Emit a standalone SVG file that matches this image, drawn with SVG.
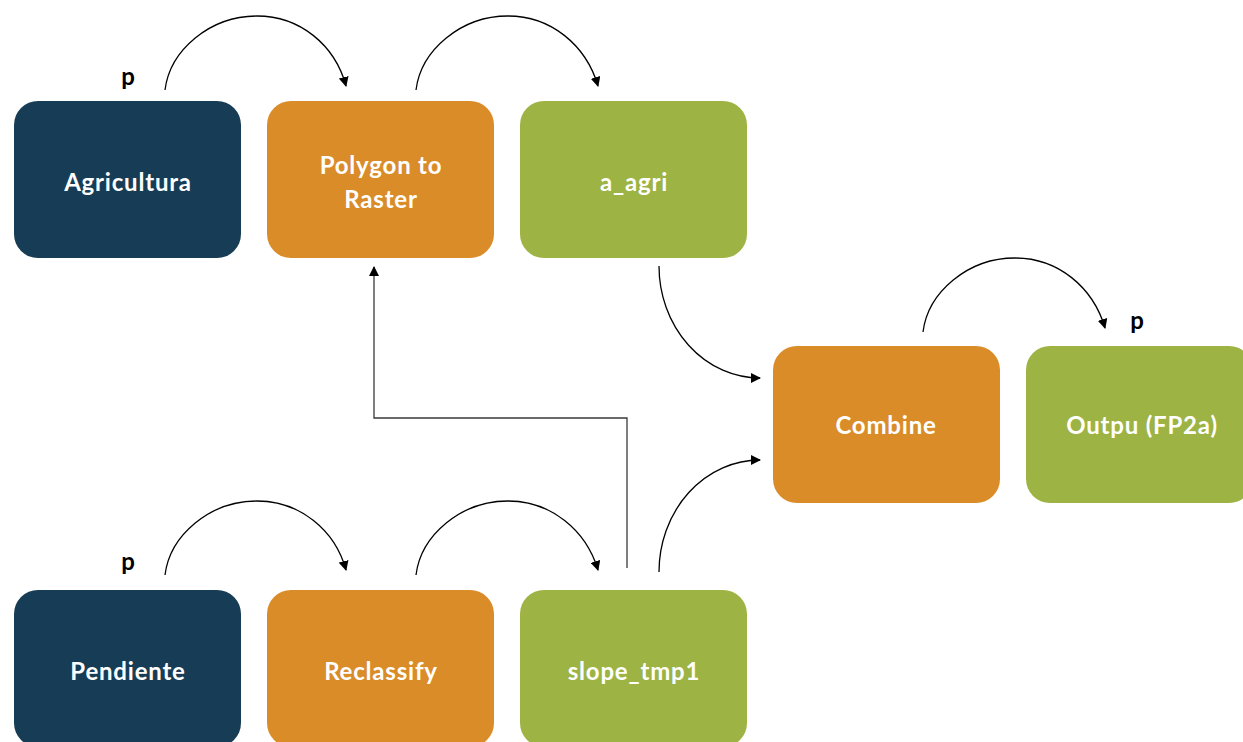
<svg xmlns="http://www.w3.org/2000/svg" width="1243" height="742" viewBox="0 0 1243 742">
<defs>
<style>
.box{stroke:none}
.navy{fill:#173D56}
.orange{fill:#DA8C29}
.green{fill:#9DB343}
.lbl{font-family:Lato,"Open Sans","Liberation Sans",sans-serif;font-weight:bold;font-size:24px;letter-spacing:0.8px;fill:#ffffff;text-anchor:middle}
.p{font-family:Lato,"Open Sans","Liberation Sans",sans-serif;font-weight:bold;font-size:24px;fill:#000000;text-anchor:middle}
.conn{fill:none;stroke:#000000;stroke-width:1.3}
.elbow{fill:none;stroke:#3a3a3a;stroke-width:1.3}
</style>
<marker id="arr" viewBox="0 0 10 10" refX="9" refY="5" markerWidth="10" markerHeight="10" markerUnits="userSpaceOnUse" orient="auto">
<path d="M0,0 L10,5 L0,10 z" fill="#000"/>
</marker>
</defs>
<rect width="1243" height="742" fill="#ffffff"/>
<g id="connectors">
<path class="conn" d="M165,90 C170,50 210,16 257,16 C300,16 335,45 346,86" marker-end="url(#arr)"/>
<path class="conn" d="M416,90 C421,50 461,16 508,16 C551,16 586,45 598,86" marker-end="url(#arr)"/>
<path class="conn" d="M165,575 C170,535 210,501 257,501 C300,501 335,530 346,570" marker-end="url(#arr)"/>
<path class="conn" d="M416,575 C421,535 461,501 508,501 C551,501 586,530 598,570" marker-end="url(#arr)"/>
<path class="conn" d="M923,332 C928,292 968,258 1015,258 C1058,258 1093,287 1105,328" marker-end="url(#arr)"/>
<path class="conn" d="M659,266 A101 112 0 0 0 760,378" marker-end="url(#arr)"/>
<path class="conn" d="M659,572 A101 112 0 0 1 760,460" marker-end="url(#arr)"/>
<path class="elbow" d="M627,568 L627,418 L374,418 L374,267" marker-end="url(#arr)"/>
</g>
<text class="p" x="128" y="85">p</text>
<text class="p" x="128" y="570">p</text>
<text class="p" x="1137" y="329">p</text>
<g id="agricultura"><rect class="box navy" x="14" y="101" width="227" height="157" rx="24"/><text class="lbl" x="128" y="191">Agricultura</text></g>
<g id="polygon-to-raster"><rect class="box orange" x="267" y="101" width="227" height="157" rx="24"/><text class="lbl" x="381" y="174">Polygon to</text><text class="lbl" x="381" y="208">Raster</text></g>
<g id="a-agri"><rect class="box green" x="520" y="101" width="227" height="157" rx="24"/><text class="lbl" x="634" y="191">a_agri</text></g>
<g id="combine"><rect class="box orange" x="773" y="346" width="227" height="157" rx="24"/><text class="lbl" x="886" y="434">Combine</text></g>
<g id="output"><rect class="box green" x="1026" y="346" width="227" height="157" rx="24"/><text class="lbl" x="1142" y="434">Outpu (FP2a)</text></g>
<g id="pendiente"><rect class="box navy" x="14" y="590" width="227" height="157" rx="24"/><text class="lbl" x="128" y="680">Pendiente</text></g>
<g id="reclassify"><rect class="box orange" x="267" y="590" width="227" height="157" rx="24"/><text class="lbl" x="381" y="680">Reclassify</text></g>
<g id="slope-tmp1"><rect class="box green" x="520" y="590" width="227" height="157" rx="24"/><text class="lbl" x="634" y="680">slope_tmp1</text></g>
</svg>
